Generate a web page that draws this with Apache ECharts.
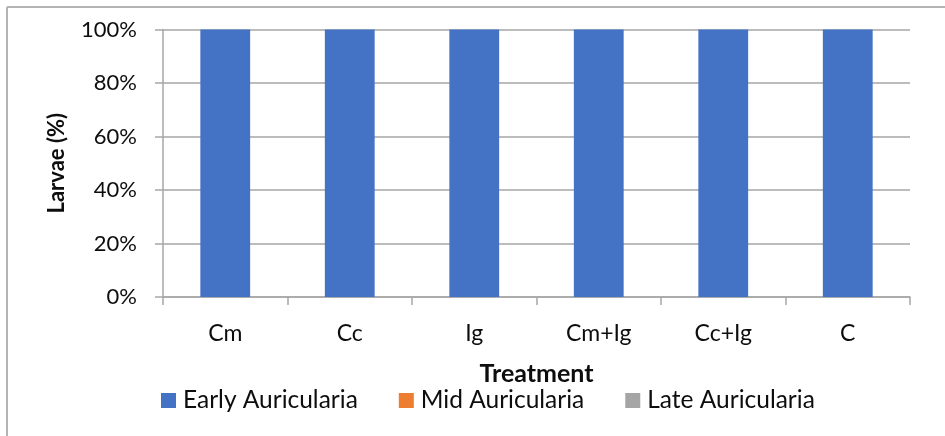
<!DOCTYPE html>
<html>
<head>
<meta charset="utf-8">
<script src="https://cdn.jsdelivr.net/npm/echarts@6/dist/echarts.min.js"></script>
<style>
  html, body { margin: 0; padding: 0; background: #fff; }
  #chart { width: 945px; height: 436px; }
</style>
</head>
<body>
<div id="chart"></div>
<script>
// Larval stage composition per treatment (percent of larvae)
const treatments = ['Cm', 'Cc', 'Ig', 'Cm+Ig', 'Cc+Ig', 'C'];
const earlyAuricularia = [100, 100, 100, 100, 100, 100];
const midAuricularia = [0, 0, 0, 0, 0, 0];
const lateAuricularia = [0, 0, 0, 0, 0, 0];

const FONT = 'Lato, "Open Sans", sans-serif';
const GRID_COLOR = '#a6a6a6';
const TEXT_COLOR = '#0d0d0d';

const chart = echarts.init(document.getElementById('chart'), null, { renderer: 'canvas' });

chart.setOption({
  animation: false,
  backgroundColor: '#fff',
  textStyle: { fontFamily: FONT, color: TEXT_COLOR },
  graphic: [
    // chart frame (top and left edges)
    { type: 'line', shape: { x1: 7, y1: 7, x2: 945, y2: 7 }, style: { stroke: '#b4b4b4', lineWidth: 2 } },
    { type: 'line', shape: { x1: 7, y1: 7, x2: 7, y2: 436 }, style: { stroke: '#b4b4b4', lineWidth: 2 } }
  ],
  grid: { left: 163, right: 35, top: 29.5, bottom: 139, containLabel: false },
  legend: {
    left: 161,
    top: 388,
    padding: 0,
    itemWidth: 15,
    itemHeight: 15,
    itemGap: 41,
    icon: 'rect',
    textStyle: { fontFamily: FONT, fontSize: 24.5, color: TEXT_COLOR, padding: [0, 0, 0, 2] },
    data: ['Early Auricularia', 'Mid Auricularia', 'Late Auricularia']
  },
  xAxis: {
    type: 'category',
    data: treatments,
    name: 'Treatment',
    nameLocation: 'middle',
    nameGap: 64,
    nameTextStyle: { fontFamily: FONT, fontSize: 25, fontWeight: 'bold', color: TEXT_COLOR },
    axisLine: { show: true, lineStyle: { color: GRID_COLOR, width: 1.5 } },
    axisTick: { show: true, length: 8, lineStyle: { color: GRID_COLOR, width: 1.5 } },
    axisLabel: { fontFamily: FONT, fontSize: 23, color: TEXT_COLOR, margin: 25 },
    splitLine: { show: false }
  },
  yAxis: {
    type: 'value',
    min: 0,
    max: 100,
    interval: 20,
    name: 'Larvae (%)',
    nameLocation: 'middle',
    nameGap: 95,
    nameRotate: 90,
    nameTextStyle: { fontFamily: FONT, fontSize: 22, fontWeight: 'bold', color: TEXT_COLOR },
    axisLine: { show: true, lineStyle: { color: GRID_COLOR, width: 1.5 } },
    axisTick: { show: true, length: 8, lineStyle: { color: GRID_COLOR, width: 1.5 } },
    axisLabel: { fontFamily: FONT, fontSize: 22, color: TEXT_COLOR, margin: 26, formatter: '{value}%' },
    splitLine: { show: true, lineStyle: { color: GRID_COLOR, width: 1.5 } }
  },
  series: [
    { name: 'Early Auricularia', type: 'bar', stack: 'stage', data: earlyAuricularia, barWidth: '40%', itemStyle: { color: '#4472c4' } },
    { name: 'Mid Auricularia', type: 'bar', stack: 'stage', data: midAuricularia, barWidth: '40%', itemStyle: { color: '#ed7d31' } },
    { name: 'Late Auricularia', type: 'bar', stack: 'stage', data: lateAuricularia, barWidth: '40%', itemStyle: { color: '#a5a5a5' } }
  ]
});
</script>
</body>
</html>
